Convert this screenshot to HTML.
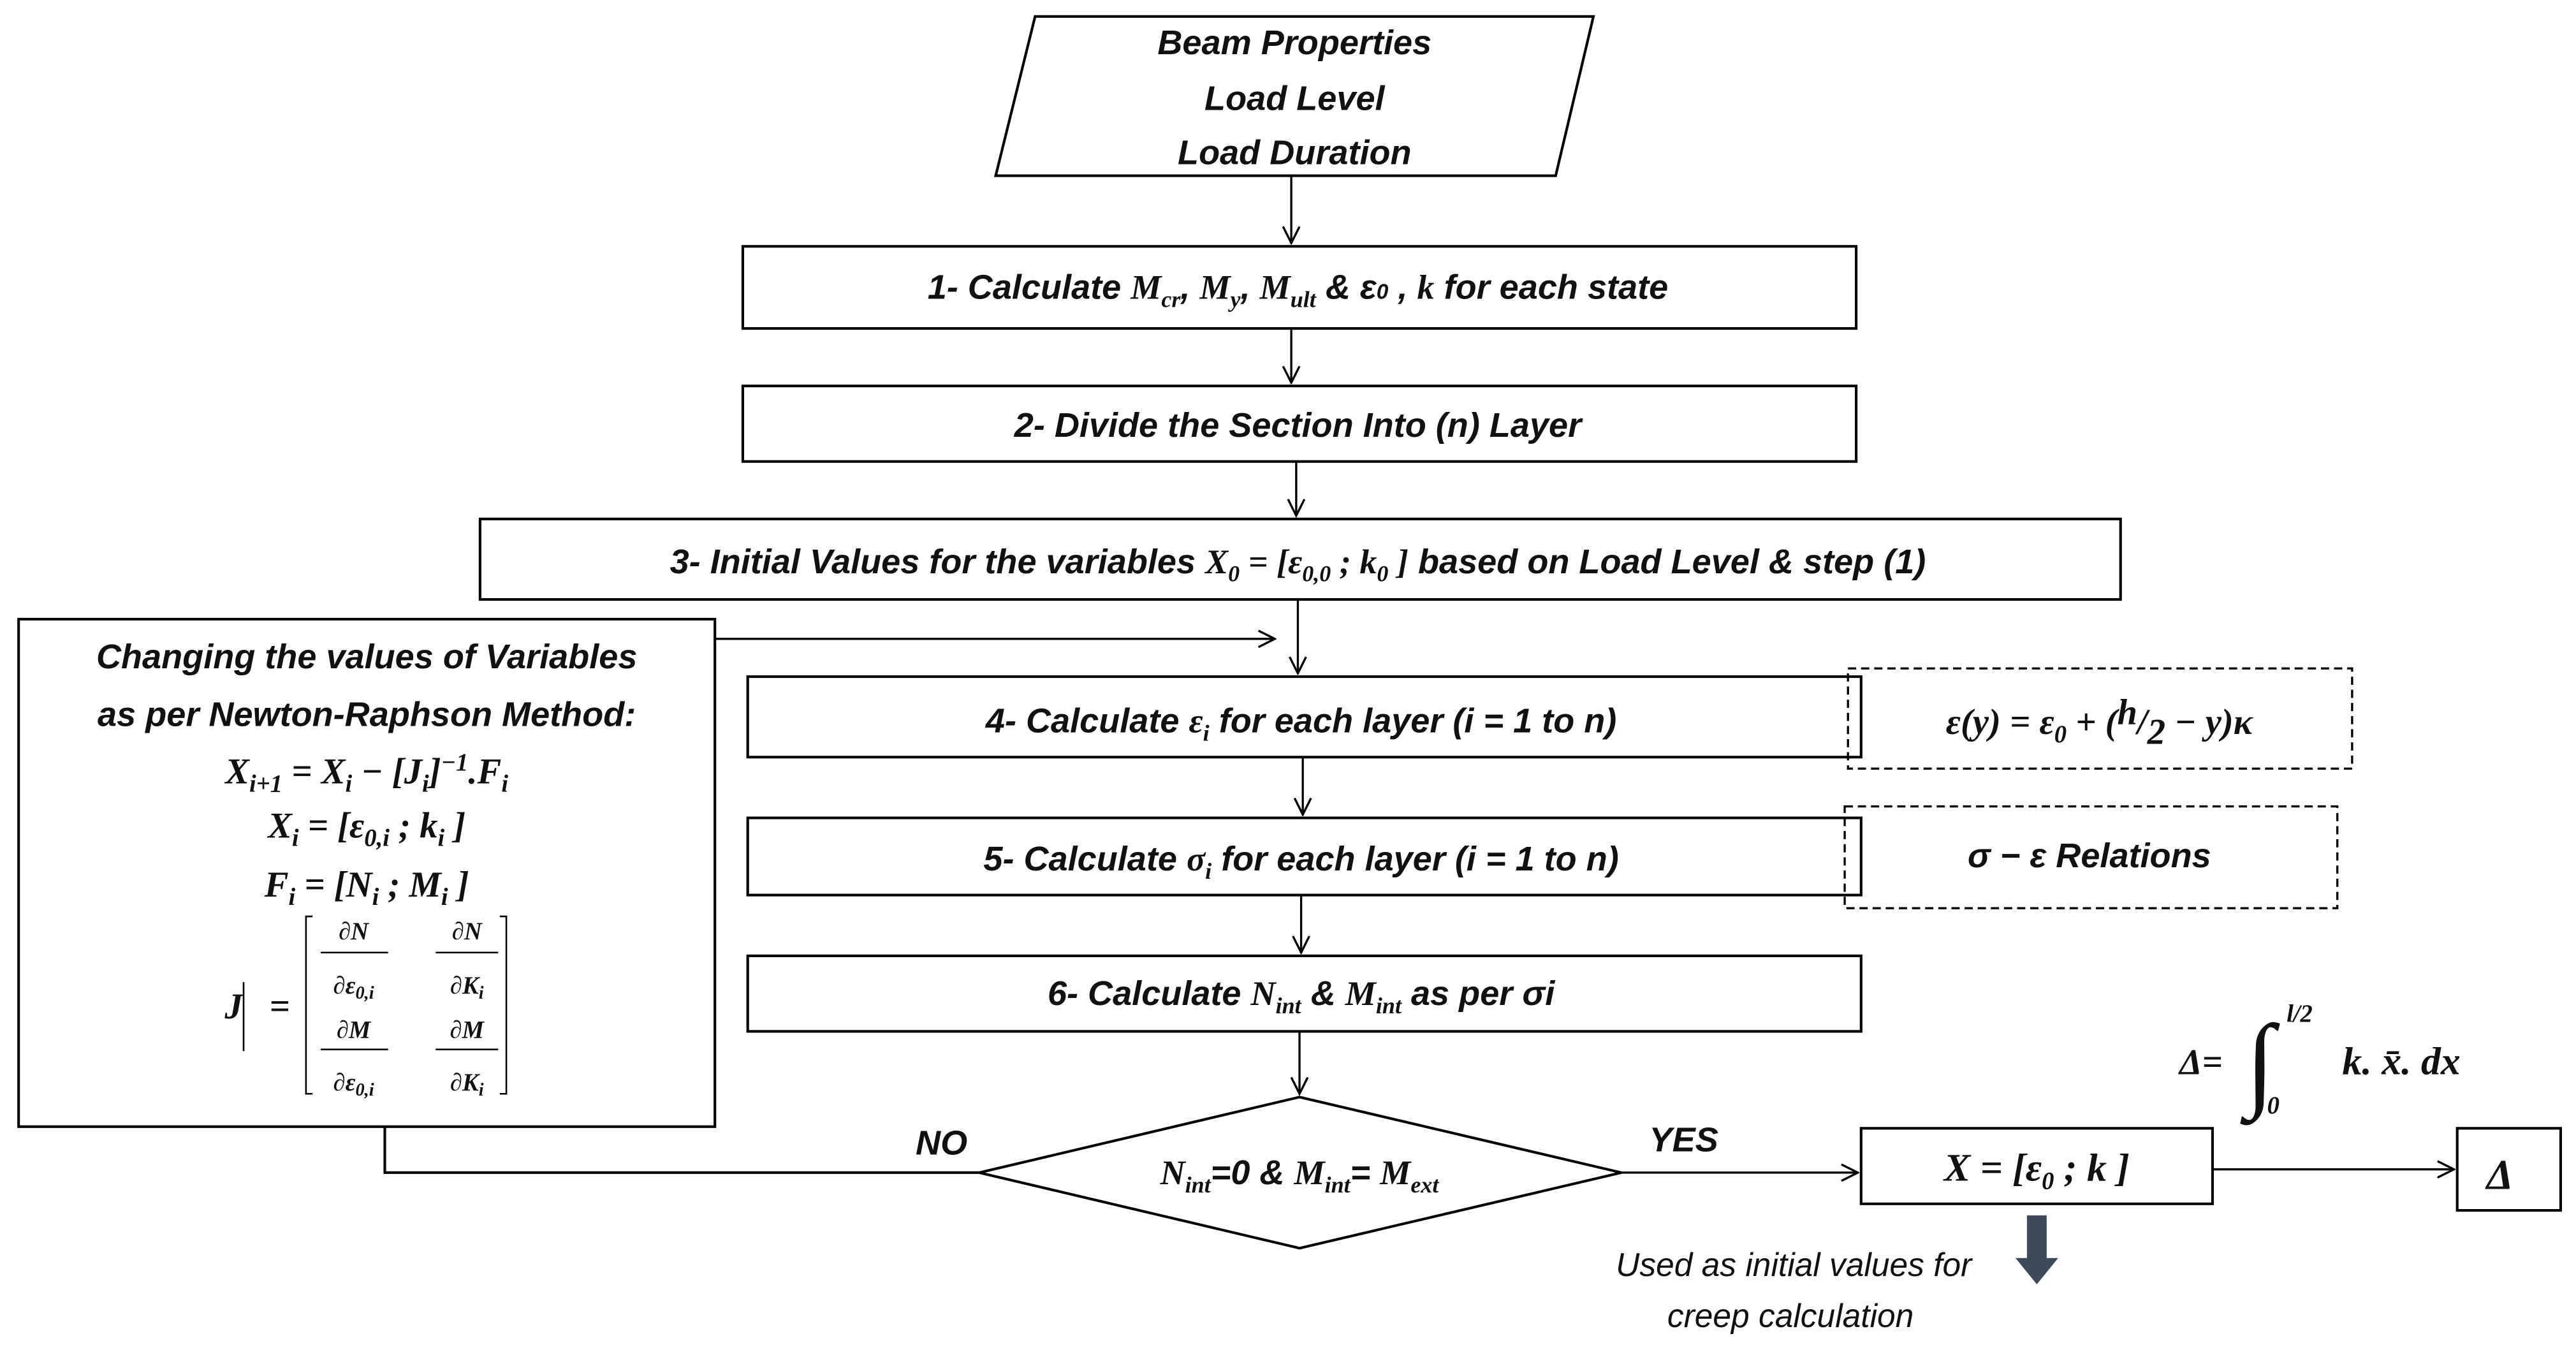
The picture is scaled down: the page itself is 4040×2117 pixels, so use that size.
<!DOCTYPE html>
<html><head><meta charset="utf-8"><style>
html,body{margin:0;padding:0;background:#fff;}
svg{display:block;}
text{font-family:"Liberation Sans",sans-serif;font-style:italic;font-weight:bold;fill:#111;}
.m{font-family:"Liberation Serif",serif;}
.n{font-weight:normal;}
</style></head><body>
<svg width="4040" height="2117" viewBox="0 0 1568 822" xmlns="http://www.w3.org/2000/svg">
<defs><marker id="a" markerWidth="12" markerHeight="12" refX="11" refY="6" orient="auto" markerUnits="userSpaceOnUse"><path d="M1,1 L11,6 L1,11" fill="none" stroke="#000" stroke-width="1.3"/></marker></defs>
<g fill="none" stroke="#000" stroke-width="1.6">
<polygon points="630,10 970,10 947,107 606,107" fill="#fff"/>
<rect x="452" y="150" width="678" height="50"/>
<rect x="452" y="235" width="678" height="46"/>
<rect x="292" y="316" width="999" height="49"/>
<rect x="11" y="377" width="424" height="309"/>
<rect x="455" y="412" width="678" height="49"/>
<rect x="455" y="498" width="678" height="47"/>
<rect x="455" y="582" width="678" height="46"/>
<rect x="1133" y="687" width="214" height="46"/>
<rect x="1496" y="687" width="63" height="50"/>
<polygon points="596,714 791,668 987,714 791,760"/>
<rect x="1125" y="407" width="307" height="61" stroke-dasharray="5,3" stroke-width="1.3"/>
<rect x="1123" y="491" width="300" height="62" stroke-dasharray="5,3" stroke-width="1.3"/>
</g>
<g stroke="#000" stroke-width="1.3" fill="none" marker-end="url(#a)">
<line x1="786" y1="107" x2="786" y2="148"/>
<line x1="786" y1="200" x2="786" y2="233"/>
<line x1="789" y1="281" x2="789" y2="314"/>
<line x1="790" y1="365" x2="790" y2="410"/>
<line x1="435" y1="389" x2="776" y2="389"/>
<line x1="793" y1="461" x2="793" y2="496"/>
<line x1="792" y1="545" x2="792" y2="580"/>
<line x1="791" y1="628" x2="791" y2="666"/>
<line x1="987" y1="714" x2="1131" y2="714"/>
<line x1="1347" y1="712" x2="1494" y2="712"/>
</g>
<polyline points="596,714 234,714 234,686" fill="none" stroke="#000" stroke-width="1.6"/>
<path d="M1234,740 H1246 V766 H1253 L1240,782 L1227,766 H1234 Z" fill="#3c4a5c"/>
<g font-size="21" text-anchor="middle">
<text x="788" y="33">Beam Properties</text>
<text x="788" y="67">Load Level</text>
<text x="788" y="100">Load Duration</text>
<text x="790" y="182">1- Calculate <tspan class="m">M</tspan><tspan class="m" font-size="14" dy="5">cr</tspan><tspan dy="-5">, </tspan><tspan class="m">M</tspan><tspan class="m" font-size="14" dy="5">y</tspan><tspan dy="-5">, </tspan><tspan class="m">M</tspan><tspan class="m" font-size="14" dy="5">ult</tspan><tspan dy="-5"> &amp;  ε</tspan><tspan font-size="13">0</tspan> , <tspan class="m">k</tspan> for each state</text>
<text x="790" y="266">2- Divide the Section Into (n) Layer</text>
<text x="790" y="349">3- Initial Values for the variables <tspan class="m">X</tspan><tspan class="m" font-size="14" dy="5">0</tspan><tspan dy="-5" class="m"> = [ε</tspan><tspan class="m" font-size="14" dy="5">0,0</tspan><tspan dy="-5" class="m"> ; k</tspan><tspan class="m" font-size="14" dy="5">0</tspan><tspan dy="-5" class="m"> ]</tspan> based on Load Level &amp;  step (1)</text>
<text x="792" y="446">4- Calculate <tspan class="m">ε</tspan><tspan class="m" font-size="14" dy="5">i</tspan><tspan dy="-5">  for each layer (i = 1 to n)</tspan></text>
<text x="792" y="530">5- Calculate <tspan class="m">σ</tspan><tspan class="m" font-size="14" dy="5">i</tspan><tspan dy="-5"> for each layer (i = 1 to n)</tspan></text>
<text x="792" y="612">6- Calculate <tspan class="m">N</tspan><tspan class="m" font-size="14" dy="5">int</tspan><tspan dy="-5"> &amp; </tspan><tspan class="m">M</tspan><tspan class="m" font-size="14" dy="5">int</tspan><tspan dy="-5"> as per σi</tspan></text>
<text x="791" y="721"><tspan class="m">N</tspan><tspan class="m" font-size="14" dy="5">int</tspan><tspan dy="-5">=0 &amp; </tspan><tspan class="m">M</tspan><tspan class="m" font-size="14" dy="5">int</tspan><tspan dy="-5">= </tspan><tspan class="m">M</tspan><tspan class="m" font-size="14" dy="5">ext</tspan></text>
<text x="573" y="703">NO</text>
<text x="1025" y="701">YES</text>
<text x="223" y="407">Changing the values of Variables</text>
<text x="223" y="442">as per Newton-Raphson Method:</text>
<text x="1272" y="528">σ − ε Relations</text>
</g>
<g class="m" font-size="22" text-anchor="middle">
<text class="m" x="223" y="477">X<tspan font-size="15" dy="5">i+1</tspan><tspan dy="-5"> = X</tspan><tspan font-size="15" dy="5">i</tspan><tspan dy="-5"> − [J</tspan><tspan font-size="15" dy="5">i</tspan><tspan dy="-5">]</tspan><tspan font-size="15" dy="-8">−1</tspan><tspan dy="8">.F</tspan><tspan font-size="15" dy="5">i</tspan></text>
<text class="m" x="223" y="510">X<tspan font-size="15" dy="5">i</tspan><tspan dy="-5"> = [ε</tspan><tspan font-size="15" dy="5">0,i</tspan><tspan dy="-5"> ; k</tspan><tspan font-size="15" dy="5">i</tspan><tspan dy="-5"> ]</tspan></text>
<text class="m" x="223" y="546">F<tspan font-size="15" dy="5">i</tspan><tspan dy="-5"> = [N</tspan><tspan font-size="15" dy="5">i</tspan><tspan dy="-5"> ; M</tspan><tspan font-size="15" dy="5">i</tspan><tspan dy="-5"> ]</tspan></text>
<text class="m" x="142" y="620">J</text><text class="m" x="170" y="620">=</text>
<text class="m" x="1240" y="719" font-size="24">X =  [ε<tspan font-size="15" dy="5">0</tspan><tspan dy="-5"> ; k ]</tspan></text>
<text class="m" x="1522" y="724" font-size="26">Δ</text>
<text class="m" x="1278" y="447">ε(y) = ε<tspan font-size="15" dy="5">0</tspan><tspan dy="-5"> + (</tspan><tspan dy="-6">h</tspan><tspan dy="6">/</tspan><tspan dy="6">2</tspan><tspan dy="-6"> − y)κ</tspan></text>
<text class="m" x="1340" y="654">Δ=</text>
<text class="m n" x="1376" y="668" font-size="64" font-style="normal">∫</text>
<text class="m" x="1400" y="622" font-size="15">l/2</text>
<text class="m" x="1384" y="678" font-size="15">0</text>
<text class="m" x="1462" y="654" font-size="24">k. x̄. dx</text>
</g>
<g class="m" font-size="15" text-anchor="middle">
<text class="m" x="215" y="572">∂N</text><text class="m" x="215" y="605">∂ε<tspan font-size="11" dy="3">0,i</tspan></text>
<text class="m" x="284" y="572">∂N</text><text class="m" x="284" y="605">∂K<tspan font-size="11" dy="3">i</tspan></text>
<text class="m" x="215" y="632">∂M</text><text class="m" x="215" y="664">∂ε<tspan font-size="11" dy="3">0,i</tspan></text>
<text class="m" x="284" y="632">∂M</text><text class="m" x="284" y="664">∂K<tspan font-size="11" dy="3">i</tspan></text>
</g>
<g stroke="#000" stroke-width="1" fill="none">
<line x1="195" y1="580" x2="236" y2="580"/><line x1="265" y1="580" x2="303" y2="580"/>
<line x1="195" y1="639" x2="236" y2="639"/><line x1="265" y1="639" x2="303" y2="639"/>
<path d="M190,558 H186 V666 H190"/><path d="M304,558 H308 V666 H304"/>
<line x1="148" y1="598" x2="148" y2="640"/>
</g>
<g font-size="20" text-anchor="middle">
<text class="n" x="1092" y="777">Used as initial values for</text>
<text class="n" x="1090" y="808">creep calculation</text>
</g>
</svg>
</body></html>
